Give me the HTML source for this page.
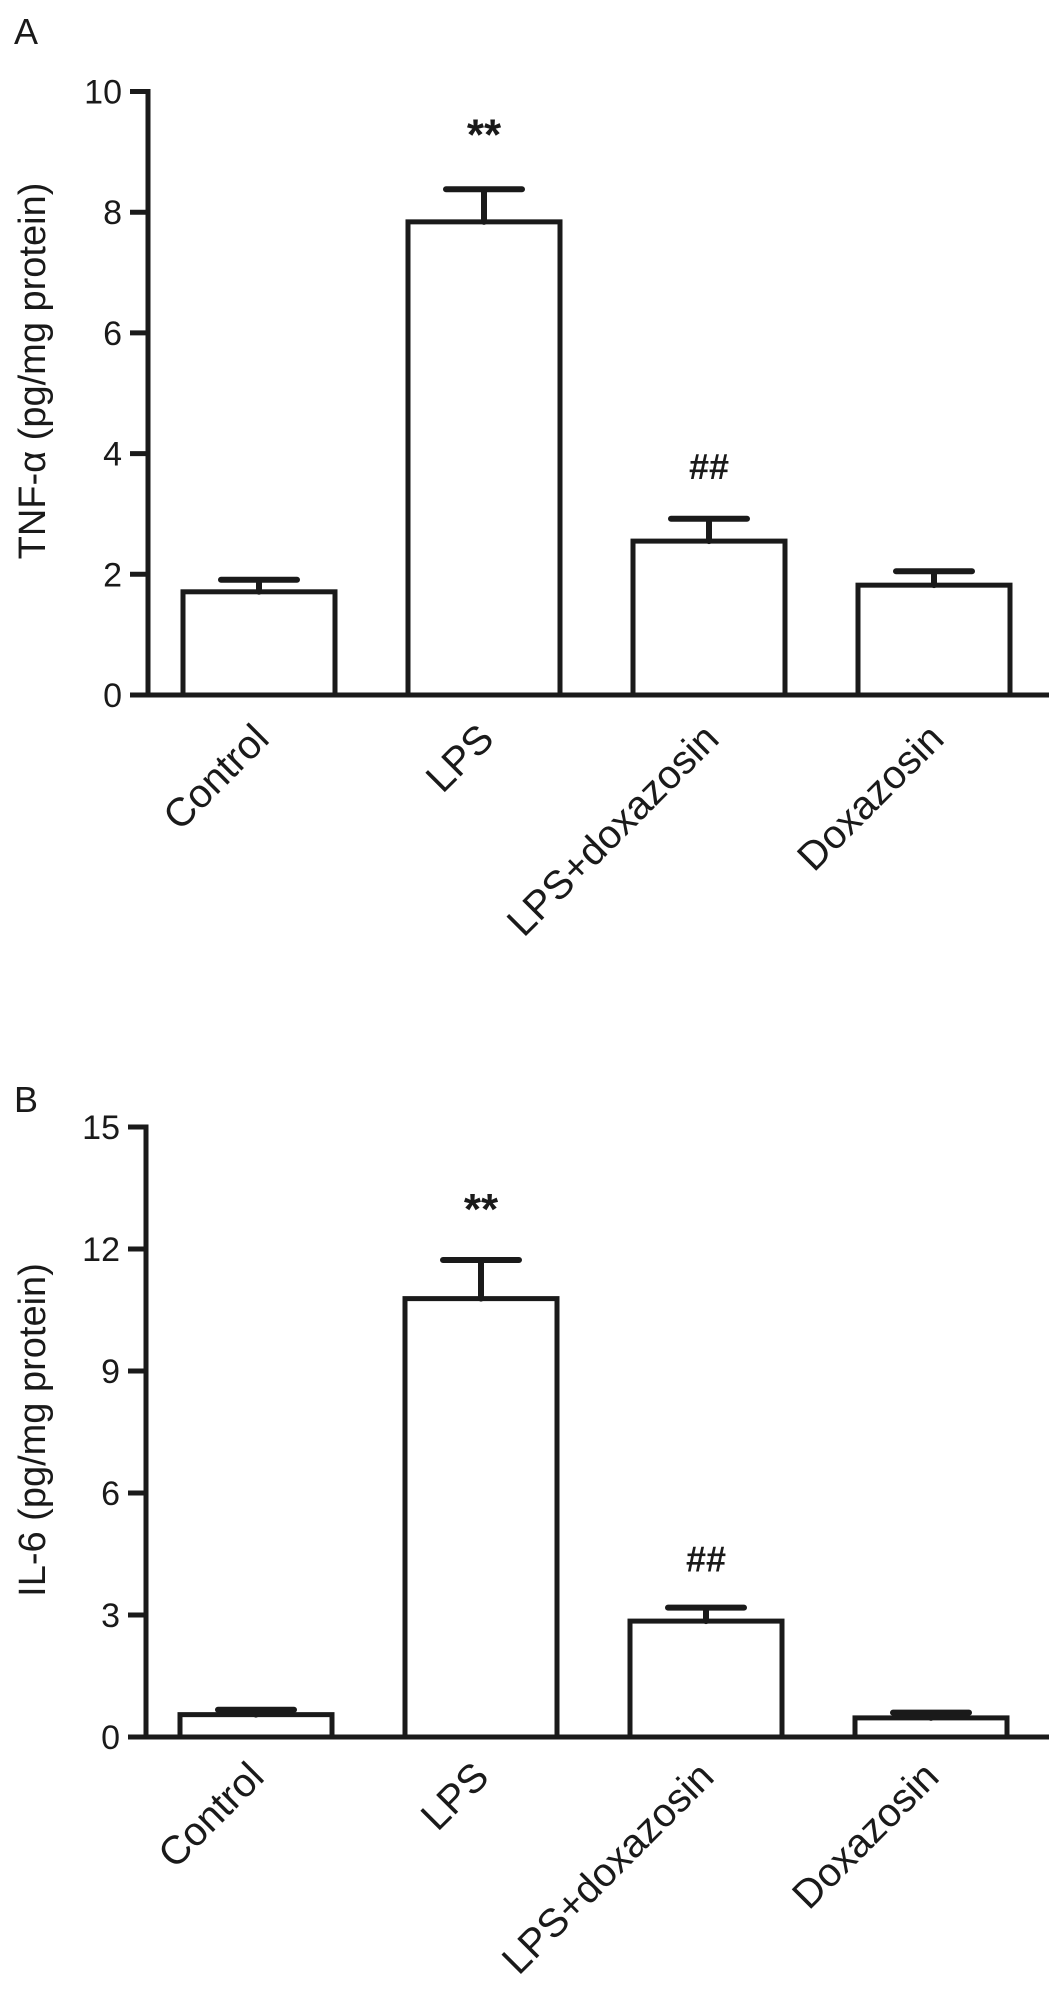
<!DOCTYPE html>
<html><head><meta charset="utf-8"><style>
html,body{margin:0;padding:0;background:#fff;}
svg{display:block;}
text{font-family:"Liberation Sans",Arial,sans-serif;fill:#1a1a1a;}
</style></head><body>
<svg id="fig" width="1063" height="1992" viewBox="0 0 1063 1992" xmlns="http://www.w3.org/2000/svg"></svg>
<script>
const categories = ["Control","LPS","LPS+doxazosin","Doxazosin"];
const tnfValues = [1.71, 7.84, 2.55, 1.82];
const tnfErrors = [0.20, 0.54, 0.37, 0.23];
const tnfTicks = [0,2,4,6,8,10];
const tnfMarks = ["", "**", "##", ""];
const il6Values = [0.55, 10.78, 2.85, 0.47];
const il6Errors = [0.12, 0.95, 0.33, 0.13];
const il6Ticks = [0,3,6,9,12,15];
const il6Marks = ["", "**", "##", ""];

const NS = "http://www.w3.org/2000/svg";
const svg = document.getElementById('fig');
function mk(tag, attrs, parent, txt){
  const e = document.createElementNS(NS, tag);
  for (const k in attrs) e.setAttribute(k, attrs[k]);
  if (txt !== undefined) e.textContent = txt;
  (parent||svg).appendChild(e);
  return e;
}

function panel(cfg){
  const g = mk('g', {});
  
  
  const y = v => cfg.y0 - (v - 0) / cfg.max * (cfg.y0 - cfg.yTop);
  const firstLeft = cfg.firstLeft, step = cfg.step, bw = cfg.bw;
  const bx = i => firstLeft + i * step;

  const lbl = mk('text', {x: cfg.letterX, y: cfg.letterY, 'font-size': 36}, g, cfg.letter);
  
  

  // y-axis
  const ax = mk('line', {x1: cfg.axX, y1: y(cfg.max)-2.5, x2: cfg.axX, y2: cfg.y0+2.5, stroke:'#1a1a1a','stroke-width':5}, g);
  
  
  // x-axis
  const xa = mk('line', {x1: cfg.axX-18, y1: cfg.y0, x2: cfg.axEnd, y2: cfg.y0, stroke:'#1a1a1a','stroke-width':5}, g);
  
  

  cfg.ticks.forEach(t => {
    const tk = mk('line', {x1: cfg.axX-18, y1: y(t), x2: cfg.axX, y2: y(t), stroke:'#1a1a1a','stroke-width':5}, g);
    
    
    const tl = mk('text', {x: cfg.axX-26, y: y(t)+12, 'font-size': 34, 'text-anchor':'end'}, g, String(t));
    
    
  });

  const tt = mk('text', {x:0, y:0, 'font-size':38, 'text-anchor':'middle', transform:`translate(${cfg.titleX},${cfg.titleY}) rotate(-90)`}, g, cfg.title);
  
  

  categories.forEach((c, i) => {
    const v = cfg.values[i], e = cfg.errors[i];
    const x0 = bx(i), cx = x0 + bw/2;
    const bar = mk('rect', {x: x0, y: y(v), width: bw, height: cfg.y0 - y(v), fill:'#fff', stroke:'#1a1a1a','stroke-width':5}, g);
    
    
    const eb = mk('path', {d:`M${cx},${y(v)} V${y(v+e)} M${cx-38},${y(v+e)} H${cx+38}`, stroke:'#1a1a1a','stroke-width':6,'stroke-linecap':'round', fill:'none'}, g);
    
    
    if (cfg.marks[i]) {
      const m = mk('text', {x: cx, y: y(v+e) - cfg.markGap, 'font-size': cfg.marks[i]==='**'?44:36, 'font-weight':'bold', 'text-anchor':'middle'}, g, cfg.marks[i]);
      
      
    }
    const xl = mk('text', {x:0, y:0, 'font-size':40, 'text-anchor':'end', transform:`translate(${cx+cfg.lblDx},${cfg.y0+cfg.lblDy}) rotate(-45)`}, g, c);
    
    
  });
}

panel({name:'panel-a-tnf', letter:'A', letterX:14, letterY:44, y0:695, yTop:91.5, max:10, axX:148, axEnd:1049,
  firstLeft:183, step:225, bw:152, ticks:tnfTicks, values:tnfValues, errors:tnfErrors, marks:tnfMarks,
  title:'TNF-α (pg/mg protein)', titleX:45, titleY:371, markGap:40, lblDx:12, lblDy:46});
panel({name:'panel-b-il6', letter:'B', letterX:14, letterY:1112, y0:1737, yTop:1127, max:15, axX:146, axEnd:1049,
  firstLeft:180, step:225, bw:152, ticks:il6Ticks, values:il6Values, errors:il6Errors, marks:il6Marks,
  title:'IL-6 (pg/mg protein)', titleX:45, titleY:1430, markGap:36, lblDx:10, lblDy:42});
</script>
</body></html>
